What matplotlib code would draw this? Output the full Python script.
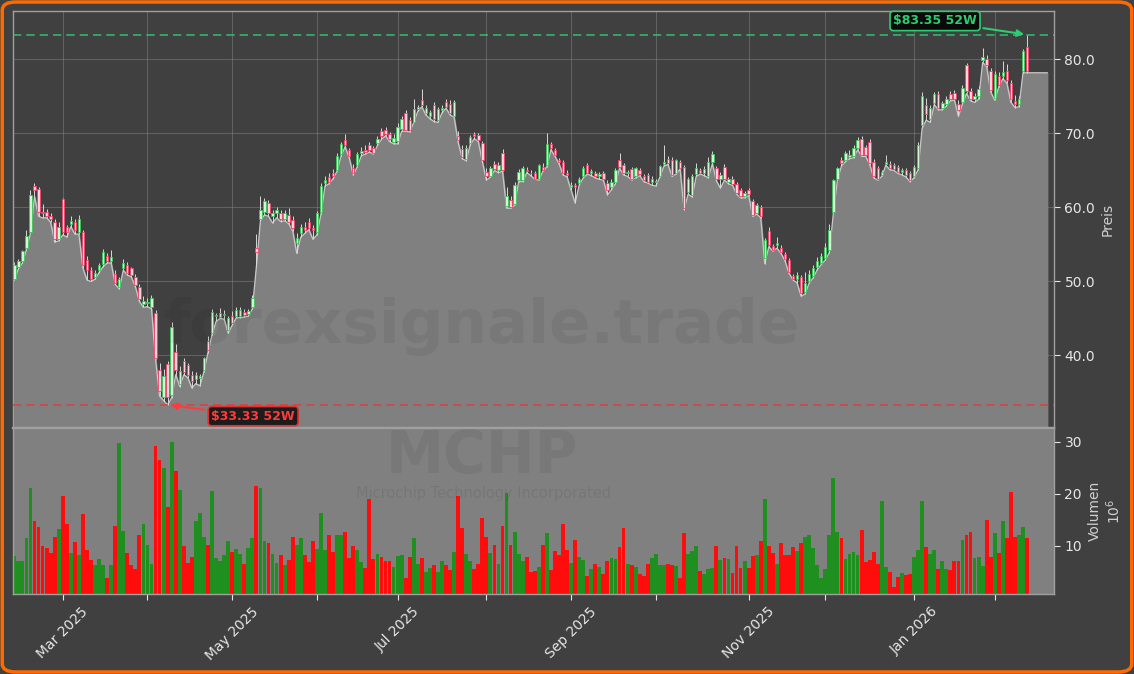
import numpy as np
import pandas as pd
import matplotlib
matplotlib.use("Agg")
import matplotlib.pyplot as plt
from matplotlib.patches import FancyBboxPatch

#------------------------------------------------------------------------------------
# MCHP daily data, 12 Feb 2025 - 12 Feb 2026
#------------------------------------------------------------------------------------
holidays = ["2025-02-17", "2025-04-18", "2025-05-26", "2025-06-19", "2025-07-04",
            "2025-09-01", "2025-11-27", "2025-12-25", "2026-01-01", "2026-01-19"]
dates = pd.bdate_range("2025-02-12", "2026-02-12", freq="C", holidays=holidays)

opens = [50.4, 51.9, 52.7, 54.5, 56.7, 62.9, 62.5, 59.4, 59.4, 58.9,
         58.1, 55.8, 61.1, 57.3, 57.8, 58.1, 56.7, 56.7, 52.9, 51.5,
         50.6, 51.5, 52.3, 53.5, 52.7, 51.0, 49.3, 51.8, 52.2, 51.8,
         50.6, 49.2, 46.9, 47.1, 46.5, 45.7, 38.0, 34.4, 38.8, 34.7,
         40.5, 36.2, 39.2, 38.7, 37.4, 36.8, 36.9, 38.0, 41.9, 43.0,
         45.3, 45.2, 45.5, 43.4, 45.4, 45.3, 45.4, 45.9, 45.6, 46.5,
         54.5, 58.5, 59.4, 60.6, 58.8, 59.2, 59.2, 58.5, 59.0, 58.3,
         55.2, 56.6, 57.4, 58.1, 57.2, 56.7, 59.4, 63.3, 64.1, 64.7,
         65.1, 67.2, 69.1, 67.7, 65.4, 65.7, 67.4, 67.8, 68.4, 68.0,
         68.7, 70.4, 70.5, 69.9, 68.9, 69.0, 70.6, 72.7, 71.8, 71.6,
         73.3, 74.5, 72.8, 72.4, 73.8, 71.8, 73.2, 74.2, 74.0, 72.4,
         69.7, 67.9, 66.6, 68.7, 69.9, 69.8, 68.7, 64.8, 64.3, 65.9,
         65.0, 67.3, 60.2, 61.0, 60.5, 63.7, 63.7, 65.1, 64.7, 64.6,
         63.9, 65.5, 65.7, 68.6, 67.8, 66.4, 66.1, 64.6, 62.8, 63.0,
         63.3, 64.2, 65.7, 64.7, 64.6, 64.2, 64.6, 63.3, 62.7, 63.4,
         66.4, 65.7, 64.6, 65.2, 64.2, 65.0, 64.2, 64.4, 63.5, 63.4,
         64.3, 65.9, 66.6, 66.4, 64.7, 66.1, 65.5, 62.1, 61.7, 64.5,
         65.1, 64.6, 64.3, 66.2, 65.3, 63.8, 65.5, 63.4, 63.9, 63.2,
         62.3, 61.5, 62.3, 60.9, 59.3, 60.0, 53.2, 56.8, 54.8, 54.9,
         54.5, 53.7, 52.9, 50.7, 50.3, 50.6, 48.6, 50.0, 50.8, 51.9,
         52.5, 53.2, 54.2, 59.4, 63.9, 66.4, 66.4, 66.8, 66.9, 68.0,
         69.3, 68.2, 68.9, 66.2, 65.3, 64.4, 65.9, 65.9, 65.7, 65.5,
         64.8, 65.0, 64.6, 64.3, 65.4, 71.1, 73.9, 72.0, 74.1, 75.3,
         73.5, 74.0, 75.3, 75.5, 74.0, 74.3, 79.2, 75.8, 74.7, 75.0,
         79.9, 80.0, 78.4, 74.8, 77.8, 77.7, 78.5, 76.8, 74.4, 74.0,
         78.4, 81.7]

highs = [52.6, 53.0, 54.3, 57.0, 62.4, 63.3, 62.8, 60.5, 59.8, 59.3,
         58.4, 58.0, 61.3, 57.6, 58.8, 58.5, 59.0, 57.0, 53.4, 51.9,
         51.6, 52.5, 54.4, 53.9, 54.2, 51.5, 50.6, 53.0, 52.6, 52.0,
         51.0, 49.6, 48.0, 47.8, 48.2, 46.2, 39.0, 38.2, 39.3, 44.5,
         41.5, 38.6, 39.6, 39.0, 37.9, 37.8, 37.5, 39.8, 42.6, 46.3,
         45.8, 46.4, 46.1, 45.3, 46.0, 46.6, 46.5, 46.3, 46.3, 48.2,
         56.4, 61.6, 61.3, 61.0, 59.6, 60.0, 59.6, 59.6, 59.9, 58.8,
         56.5, 57.8, 58.1, 58.6, 57.6, 59.5, 63.3, 64.2, 64.6, 65.2,
         67.4, 68.9, 69.9, 68.1, 65.9, 67.5, 68.2, 68.5, 68.8, 68.3,
         69.6, 70.8, 70.9, 70.2, 69.9, 71.4, 72.4, 73.2, 72.2, 74.7,
         73.9, 76.0, 73.8, 73.2, 74.3, 73.6, 73.8, 74.6, 74.5, 74.5,
         70.3, 68.4, 68.5, 69.8, 70.2, 70.1, 69.0, 65.4, 65.6, 66.3,
         66.2, 67.9, 62.8, 61.6, 63.5, 65.2, 65.6, 65.5, 65.0, 64.9,
         65.9, 66.0, 70.0, 68.8, 68.1, 66.7, 66.4, 65.0, 63.4, 63.3,
         64.1, 65.6, 66.0, 65.2, 64.9, 64.8, 64.9, 63.7, 63.8, 65.3,
         67.3, 66.0, 65.1, 65.5, 65.5, 65.3, 64.5, 64.7, 64.2, 63.9,
         65.8, 68.4, 67.0, 66.8, 66.6, 66.4, 65.8, 64.1, 64.5, 66.0,
         65.3, 65.6, 66.8, 67.6, 65.6, 64.8, 65.9, 64.1, 64.3, 63.5,
         62.6, 62.2, 62.6, 61.2, 60.6, 60.3, 55.9, 57.3, 55.1, 56.0,
         54.9, 54.0, 53.2, 51.0, 51.3, 50.9, 51.3, 51.5, 52.2, 53.3,
         53.8, 55.2, 57.8, 63.9, 65.5, 66.8, 67.6, 67.7, 68.4, 69.5,
         69.6, 68.5, 69.3, 66.6, 65.6, 65.0, 67.1, 66.3, 66.0, 65.8,
         65.4, 65.3, 64.9, 65.8, 68.9, 75.6, 74.8, 73.8, 75.6, 75.8,
         74.4, 75.0, 75.7, 75.9, 74.5, 76.5, 79.5, 76.2, 75.5, 76.4,
         81.5, 80.6, 78.9, 78.5, 78.3, 79.8, 79.4, 77.2, 75.2, 75.0,
         81.4, 83.35]

lows = [50.2, 51.7, 52.5, 54.3, 56.5, 61.5, 58.8, 58.6, 58.6, 58.0,
        55.3, 55.5, 56.3, 56.0, 57.4, 56.4, 56.4, 51.8, 50.2, 50.0,
        50.3, 51.2, 52.0, 52.5, 52.5, 49.6, 49.0, 51.5, 50.9, 50.6,
        49.3, 47.3, 46.5, 46.6, 46.3, 39.5, 34.5, 33.9, 33.33, 34.3,
        37.4, 35.8, 37.4, 37.0, 35.6, 36.2, 35.9, 37.8, 40.4, 42.8,
        44.6, 45.0, 44.9, 43.0, 44.1, 45.1, 45.1, 45.2, 45.3, 46.3,
        52.0, 58.2, 59.0, 58.8, 57.9, 58.6, 58.1, 58.2, 57.8, 56.8,
        53.8, 56.0, 56.5, 57.0, 55.7, 56.3, 59.1, 62.9, 63.2, 63.9,
        64.9, 67.0, 68.2, 66.7, 64.4, 65.5, 67.0, 67.2, 67.5, 67.2,
        68.4, 69.2, 69.7, 68.9, 68.6, 68.6, 70.3, 70.3, 70.2, 71.5,
        73.0, 73.6, 72.5, 72.0, 71.6, 71.5, 72.8, 73.4, 72.5, 72.2,
        68.8, 66.6, 66.3, 68.5, 69.3, 68.9, 66.2, 63.7, 64.1, 65.0,
        64.7, 64.9, 59.9, 59.9, 60.3, 63.5, 63.5, 64.7, 64.3, 63.8,
        63.7, 64.9, 65.5, 67.8, 66.9, 65.9, 64.4, 64.1, 62.3, 60.6,
        63.0, 64.0, 64.5, 64.3, 64.0, 63.8, 63.7, 61.7, 62.4, 63.2,
        65.3, 64.4, 64.2, 63.7, 64.0, 64.3, 63.5, 63.3, 63.0, 62.9,
        64.1, 65.6, 65.8, 64.2, 64.5, 65.2, 59.7, 61.8, 61.4, 64.2,
        64.5, 64.3, 64.0, 65.9, 63.6, 62.6, 63.7, 63.2, 63.0, 61.8,
        61.3, 61.3, 61.6, 58.8, 59.1, 58.6, 52.4, 54.7, 54.1, 54.5,
        53.8, 52.8, 51.1, 50.2, 49.8, 48.0, 48.3, 49.8, 50.5, 51.6,
        52.3, 52.9, 53.9, 59.2, 63.7, 65.6, 66.2, 66.6, 66.7, 67.8,
        66.9, 66.9, 65.8, 64.0, 63.7, 64.2, 65.7, 65.1, 65.0, 64.6,
        64.4, 64.1, 63.5, 64.0, 65.1, 70.7, 71.8, 71.5, 73.9, 73.2,
        73.2, 73.7, 74.4, 74.5, 72.3, 74.0, 75.4, 74.4, 74.2, 74.6,
        79.6, 79.0, 75.6, 74.5, 76.3, 77.4, 76.8, 74.2, 73.5, 73.6,
        78.2, 78.2]

closes = [52.2, 52.7, 54.1, 56.2, 61.7, 62.3, 59.4, 59.3, 58.9, 58.4,
          55.8, 57.4, 56.7, 56.7, 58.2, 57.0, 58.5, 52.2, 51.6, 50.4,
          51.2, 52.2, 54.0, 52.8, 53.3, 49.8, 50.4, 52.5, 51.1, 50.9,
          49.5, 47.6, 47.3, 47.2, 47.7, 39.6, 35.2, 37.2, 34.4, 43.9,
          38.0, 37.9, 37.8, 37.3, 36.6, 37.4, 37.2, 39.6, 40.8, 45.9,
          45.5, 45.7, 45.6, 45.0, 44.4, 46.2, 46.2, 45.5, 46.0, 47.8,
          54.0, 59.6, 60.9, 59.2, 59.3, 59.7, 58.4, 59.3, 58.1, 57.2,
          55.9, 57.4, 56.9, 57.2, 56.9, 59.2, 62.9, 63.7, 63.5, 64.2,
          67.0, 68.6, 68.4, 66.9, 64.7, 67.2, 67.6, 67.5, 67.8, 67.4,
          69.3, 69.6, 69.9, 69.2, 69.4, 70.9, 72.0, 70.5, 70.5, 73.3,
          73.6, 73.8, 73.4, 72.9, 71.9, 73.3, 73.4, 73.6, 72.7, 74.2,
          69.1, 66.8, 68.1, 69.5, 69.6, 69.1, 66.4, 64.2, 65.3, 65.2,
          65.8, 65.1, 61.6, 60.1, 63.0, 64.8, 65.3, 64.9, 64.6, 63.9,
          65.7, 65.0, 68.6, 68.0, 67.1, 66.1, 64.6, 64.4, 63.0, 62.8,
          63.8, 65.3, 64.7, 64.9, 64.2, 64.5, 63.9, 62.4, 63.4, 65.0,
          65.5, 64.6, 64.8, 63.9, 65.3, 64.5, 63.7, 63.5, 63.8, 63.6,
          65.6, 66.1, 66.0, 64.4, 66.4, 65.4, 59.9, 63.8, 64.2, 65.3,
          64.6, 65.2, 66.1, 67.2, 63.9, 64.4, 63.9, 63.9, 63.2, 62.0,
          61.5, 62.0, 61.8, 59.0, 60.3, 58.8, 55.6, 54.9, 54.3, 55.2,
          54.0, 53.0, 51.3, 50.4, 50.9, 48.4, 49.8, 51.0, 51.8, 52.8,
          53.4, 54.6, 57.0, 63.7, 65.3, 66.0, 67.3, 67.1, 68.0, 69.1,
          67.1, 67.1, 66.0, 64.2, 63.9, 64.8, 66.2, 65.3, 65.2, 64.8,
          65.1, 64.4, 63.7, 65.5, 68.5, 75.0, 72.6, 73.4, 75.3, 73.4,
          74.1, 74.7, 74.6, 74.7, 73.2, 76.2, 75.7, 74.7, 75.0, 76.0,
          80.3, 79.3, 75.9, 78.1, 76.6, 78.3, 77.2, 74.6, 74.0, 74.6,
          81.1, 78.4]

# volume in millions of shares
volumes = [8.1, 7.0, 7.1, 11.4, 21.1, 14.7, 13.6, 9.9, 9.6, 8.6,
           11.6, 13.3, 19.5, 14.1, 8.6, 10.8, 8.3, 16.2, 9.2, 7.3,
           6.2, 7.5, 6.3, 3.8, 6.2, 13.9, 29.8, 12.9, 8.6, 6.2,
           5.5, 12.1, 14.1, 10.2, 6.5, 29.2, 26.5, 25.0, 17.4, 30.0,
           24.4, 20.7, 10.0, 6.7, 7.9, 14.7, 16.4, 11.7, 10.2, 20.5,
           7.7, 7.1, 8.3, 11.0, 8.7, 9.4, 8.4, 6.5, 9.6, 11.4,
           21.5, 21.1, 11.0, 10.6, 8.5, 6.7, 8.3, 6.2, 7.3, 11.6,
           10.2, 11.4, 8.3, 6.8, 11.0, 9.4, 16.4, 9.2, 12.0, 8.8,
           12.0, 12.1, 12.7, 7.7, 9.9, 9.2, 6.9, 5.7, 19.1, 7.5,
           8.5, 7.8, 7.1, 7.0, 6.0, 8.1, 8.3, 3.8, 7.9, 11.4,
           6.5, 7.6, 4.9, 5.7, 6.2, 5.0, 7.0, 6.2, 5.4, 8.8,
           19.5, 13.5, 8.5, 7.0, 5.5, 6.5, 15.4, 11.6, 8.6, 10.1,
           6.4, 13.9, 20.1, 10.2, 12.7, 8.5, 7.0, 7.9, 4.9, 5.2,
           6.0, 10.2, 12.5, 5.3, 8.9, 8.3, 14.1, 9.2, 6.7, 11.2,
           7.9, 7.3, 4.2, 5.5, 6.5, 6.0, 4.6, 7.0, 7.7, 7.5,
           9.8, 13.5, 6.5, 6.3, 5.9, 4.6, 4.2, 6.5, 7.7, 8.5,
           6.3, 6.3, 6.5, 6.2, 6.1, 3.8, 12.5, 8.5, 9.0, 10.0,
           5.2, 4.6, 5.5, 5.7, 10.0, 7.3, 7.7, 7.5, 4.8, 10.0,
           5.7, 7.1, 5.7, 8.1, 8.3, 11.0, 19.1, 10.0, 8.6, 6.5,
           10.6, 8.3, 8.3, 9.8, 9.0, 10.6, 11.7, 12.1, 9.6, 6.3,
           3.8, 5.5, 12.0, 23.0, 12.7, 11.4, 7.5, 8.5, 8.8, 8.3,
           13.1, 6.9, 7.3, 8.8, 6.5, 18.7, 5.9, 5.0, 2.0, 4.0,
           4.8, 4.4, 4.6, 7.9, 9.2, 18.6, 9.8, 8.5, 9.2, 5.5,
           7.1, 5.5, 5.3, 7.1, 7.1, 11.2, 12.0, 12.7, 7.7, 7.9,
           6.1, 14.9, 7.9, 12.5, 8.6, 14.7, 11.4, 20.3, 11.7, 12.1,
           13.7, 11.4]

ticker = "MCHP"
company = "Microchip Technology Incorporated"
watermark = "forexsignale.trade"

#------------------------------------------------------------------------------------
# Prepare arrays
#------------------------------------------------------------------------------------
o = np.array(opens); h = np.array(highs); l = np.array(lows); c = np.array(closes)
v = np.array(volumes)
n = len(c)
dates = dates[:n]
x = np.arange(n)
up = c >= o

hi_52 = h.max(); lo_52 = l.min()
i_hi = int(h.argmax()); i_lo = int(l.argmin())

# first trading day of every month -> tick positions
month_idx = [i for i in range(1, n) if dates[i].month != dates[i - 1].month]
month_lab = [dates[i].strftime("%b %Y") if dates[i].month % 2 == 1 else "" for i in month_idx]

#------------------------------------------------------------------------------------
# Figure
#------------------------------------------------------------------------------------
bg = "#404040"
txt = "#e6e6e6"
fig = plt.figure(figsize=(11.34, 6.74), dpi=100, facecolor=bg)
ax = fig.add_axes([0.0112, 0.365, 0.9183, 0.6187])
axv = fig.add_axes([0.0112, 0.1187, 0.9183, 0.2463], sharex=ax)

# price panel
ax.set_facecolor(bg)
ax.set_axisbelow(True)
ax.grid(True, color="#8a8a8a", alpha=0.45, lw=0.8)
fx = np.append(x, n - 1 + 5)
fy = np.append(l, l[-1])
ax.fill_between(fx, fy, 0, color="#808080", zorder=1)
ax.plot(fx, fy, color="#c8c8c8", lw=0.9, zorder=1.5)

ax.vlines(x, l, h, colors="#d8d8d8", lw=0.7, zorder=2)
body_lo = np.minimum(o, c)
body_h = np.maximum(np.abs(c - o), 0.08)
ax.bar(x, body_h, bottom=body_lo, width=0.6,
       color=np.where(up, "#d2f5d2", "#ffd2dc"),
       edgecolor=np.where(up, "#3cc45a", "#f2406a"), linewidth=0.6, zorder=3)

ax.axhline(hi_52, color="#2ecc71", ls=(0, (5, 3)), lw=1.2, alpha=0.85, zorder=4)
ax.axhline(lo_52, color="#e03c3c", ls=(0, (5, 3)), lw=1.2, alpha=0.85, zorder=4)

ax.annotate("\\$%.2f 52W" % hi_52, xy=(i_hi, hi_52), xytext=(228.2, 85.2),
            color="#2ecc71", fontsize=9, fontweight="bold", ha="center", va="center",
            bbox=dict(boxstyle="round,pad=0.25", fc="#0a0a0a", ec="#2ecc71", lw=1.2),
            arrowprops=dict(arrowstyle="-|>", color="#2ecc71", lw=1.5, mutation_scale=10),
            zorder=6)
ax.annotate("\\$%.2f 52W" % lo_52, xy=(i_lo, lo_52), xytext=(59.2, 31.8),
            color="#ff3b3b", fontsize=9, fontweight="bold", ha="center", va="center",
            bbox=dict(boxstyle="round,pad=0.25", fc="#1c1c1c", ec="#e03030", lw=1.2),
            arrowprops=dict(arrowstyle="-|>", color="#ff3b3b", lw=1.5, mutation_scale=10),
            zorder=6)

ax.set_xlim(-0.4, 257.7)
ax.set_ylim(30.2, 86.55)
ax.set_yticks([40, 50, 60, 70, 80])
ax.set_yticklabels(["%.1f" % t for t in [40, 50, 60, 70, 80]])
ax.yaxis.tick_right()
ax.yaxis.set_label_position("right")
ax.set_ylabel("Preis", color="#d0d0d0", fontsize=10)
ax.tick_params(axis="y", colors=txt, labelsize=10, length=4)
ax.tick_params(axis="x", length=0, labelbottom=False)
ax.set_xticks(month_idx)

# volume panel
axv.set_facecolor("#808080")
axv.bar(x, v, width=0.95, color=np.where(up, "#1f8f1f", "#ff0d0d"), zorder=2)
axv.set_ylim(0.7, 32.7)
axv.set_yticks([10, 20, 30])
axv.yaxis.tick_right()
axv.yaxis.set_label_position("right")
axv.set_ylabel("Volumen\n$10^6$", color="#d0d0d0", fontsize=10)
axv.tick_params(axis="y", colors=txt, labelsize=10, length=4)
axv.set_xticks(month_idx)
axv.set_xticklabels(month_lab, rotation=45, ha="center")
axv.tick_params(axis="x", colors=txt, labelsize=10, length=4)

for a in (ax, axv):
    for s in a.spines.values():
        s.set_color("#a0a0a0")
        s.set_linewidth(1.0)
ax.spines["bottom"].set_linewidth(1.6)
axv.spines["top"].set_linewidth(1.6)

# watermark
fig.text(0.425, 0.515, watermark, fontsize=44, fontweight="bold", color="black",
         alpha=0.06, ha="center", va="center", zorder=10)
fig.text(0.425, 0.322, ticker, fontsize=42, fontweight="bold", color="black",
         alpha=0.06, ha="center", va="center", zorder=10)
fig.text(0.426, 0.268, company, fontsize=10.5, color="black",
         alpha=0.07, ha="center", va="center", zorder=10)

# orange frame
fig.patches.append(FancyBboxPatch((0.002, 0.003), 0.996, 0.994,
                                  boxstyle="round,pad=0,rounding_size=0.012",
                                  transform=fig.transFigure, fill=False,
                                  ec="#ff6a00", lw=2.5))

fig.savefig("out.png", dpi=100, facecolor=bg)
